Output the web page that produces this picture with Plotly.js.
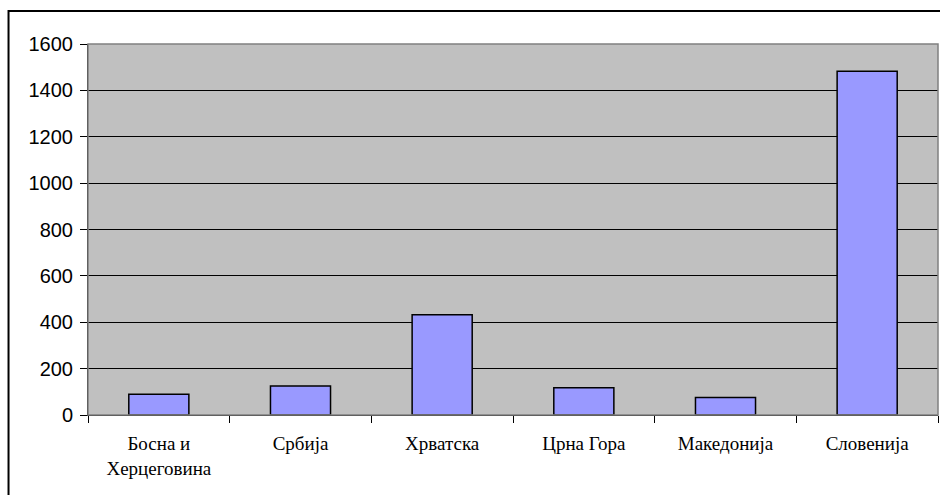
<!DOCTYPE html>
<html>
<head>
<meta charset="utf-8">
<script src="https://cdn.plot.ly/plotly-3.0.1.min.js"></script>
<style>html,body{margin:0;padding:0;background:#fff;}#chart{width:940px;height:495px;}</style>
</head>
<body>
<div id="chart"></div>
<script>
var categories = ["Босна и<br>Херцеговина", "Србија", "Хрватска", "Црна Гора", "Македонија", "Словенија"];
var values = [89, 125, 432, 118, 76, 1483];
var yTickVals = [0, 200, 400, 600, 800, 1000, 1200, 1400, 1600];

var trace = {
  type: 'bar',
  x: categories,
  y: values,
  marker: {color: '#9999FF', line: {color: '#000000', width: 1.5}},
  hoverinfo: 'none'
};

var layout = {
  width: 940,
  height: 495,
  margin: {l: 88, r: 2, t: 44, b: 80, pad: 0},
  paper_bgcolor: '#FFFFFF',
  plot_bgcolor: '#C0C0C0',
  showlegend: false,
  bargap: 0.576,
  xaxis: {
    type: 'category',
    tickson: 'boundaries',
    ticks: 'outside',
    ticklen: 7,
    tickcolor: '#000000',
    tickwidth: 1,
    showline: true,
    linecolor: '#000000',
    linewidth: 1,
    showgrid: false,
    zeroline: false,
    ticklabelstandoff: 11,
    tickfont: {family: 'Liberation Serif, Times New Roman, serif', size: 19, color: '#000000'},
    fixedrange: true
  },
  yaxis: {
    range: [0, 1600],
    tickvals: yTickVals,
    ticktext: yTickVals.map(String),
    ticks: 'outside',
    ticklen: 7,
    tickcolor: '#000000',
    tickwidth: 1,
    showline: true,
    linecolor: '#000000',
    linewidth: 1,
    showgrid: true,
    gridcolor: '#000000',
    gridwidth: 1,
    zeroline: false,
    ticklabelstandoff: 3,
    tickfont: {family: 'Liberation Sans, Arial, sans-serif', size: 20, color: '#000000'},
    fixedrange: true
  },
  shapes: [
    {type: 'rect', xref: 'paper', yref: 'paper', x0: 0, x1: 1, y0: 0, y1: 1,
     line: {color: '#808080', width: 1.5}, fillcolor: 'rgba(0,0,0,0)', layer: 'above'},
    {type: 'rect', xref: 'paper', yref: 'paper', x0: -0.0935, x1: 1.02, y0: -0.3, y1: 1.0889,
     line: {color: '#000000', width: 2}, fillcolor: 'rgba(0,0,0,0)', layer: 'above'}
  ]
};

Plotly.newPlot('chart', [trace], layout, {displayModeBar: false, staticPlot: true});
</script>
</body>
</html>
